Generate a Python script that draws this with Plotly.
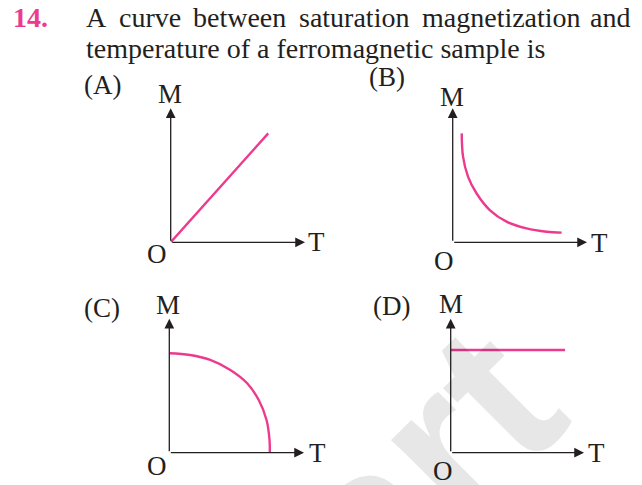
import plotly.graph_objects as go

W, H = 642, 485

# ---------------- data ----------------
question_no = "14."
line1_words = ["A", "curve", "between", "saturation", "magnetization", "and"]
line2_text = "temperature of a ferromagnetic sample is"
option_labels = ["(A)", "(B)", "(C)", "(D)"]
y_label, x_label, origin_label = "M", "T", "O"
watermark_text = "Smart"

# (A) straight line through origin
A_T = [0.0, 0.726]
A_M = [0.0, 0.813]
# (B) decreasing hyperbola-like curve
B_T = [0.067, 0.077, 0.114, 0.177, 0.276, 0.401, 0.550, 0.699, 0.811]
B_M = [0.813, 0.639, 0.490, 0.366, 0.241, 0.154, 0.104, 0.079, 0.072]
# (C) quarter-ellipse falling to zero at Curie temperature
C_T = [0.000, 0.154, 0.304, 0.453, 0.578, 0.664, 0.722, 0.744, 0.746]
C_M = [0.742, 0.729, 0.692, 0.617, 0.518, 0.393, 0.244, 0.095, 0.000]
# (D) constant
D_T = [0.0, 0.858]
D_M = [0.766, 0.766]

# ---------------- styling / layout ----------------
PINK = "#EC3A8E"
INK = "#231F20"
SERIF = "Liberation Serif, Times New Roman, serif"

# panel frames in pixels: origin x, origin y, x-arrow tip, y-arrow tip
panels = [
    dict(ox=170.7, oy=242.3, xt=305, yt=108.3),
    dict(ox=452.7, oy=242.3, xt=587, yt=108.3),
    dict(ox=169.3, oy=452.7, xt=304, yt=318.7),
    dict(ox=450.7, oy=452.7, xt=584, yt=318.7),
]
curves = [(A_T, A_M), (B_T, B_M), (C_T, C_M), (D_T, D_M)]
label_pos = [  # option label, M, T, O centres (pixels)
    dict(opt=(102, 85), M=(170, 94), T=(316, 242), O=(157, 254)),
    dict(opt=(387, 77), M=(451.5, 97), T=(599, 243), O=(444, 261)),
    dict(opt=(102, 308), M=(168, 305), T=(317, 453), O=(157, 466)),
    dict(opt=(391, 306), M=(451, 304), T=(596, 453), O=(443, 471)),
]

def px(x):
    return x / W

def py(y):
    return 1 - y / H

fig = go.Figure()
layout = dict(
    width=W, height=H,
    margin=dict(l=0, r=0, t=0, b=0),
    paper_bgcolor="white", plot_bgcolor="rgba(0,0,0,0)",
    showlegend=False,
)

annotations = []
# faint rotated watermark (drawn first, semi-transparent)
annotations.append(dict(
    xref="paper", yref="paper", x=px(301), y=py(587),
    xanchor="center", yanchor="middle", showarrow=False,
    text=f"<b>{watermark_text}</b>", textangle=-45,
    font=dict(family="Liberation Sans, Arial", size=220,
              color="rgba(0,0,0,0.095)"),
))

for i, (p, (t, m), lp) in enumerate(zip(panels, curves, label_pos)):
    k = "" if i == 0 else str(i + 1)
    xa, ya = f"xaxis{k}", f"yaxis{k}"
    layout[xa] = dict(domain=[px(p["ox"]), px(p["xt"])], range=[0, 1],
                      visible=False, fixedrange=True, anchor=f"y{k}")
    layout[ya] = dict(domain=[py(p["oy"]), py(p["yt"])], range=[0, 1],
                      visible=False, fixedrange=True, anchor=f"x{k}")
    fig.add_trace(go.Scatter(
        x=t, y=m, mode="lines", xaxis=f"x{k}", yaxis=f"y{k}",
        line=dict(color=PINK, width=2.4, shape="spline", smoothing=1.0),
        cliponaxis=False, hoverinfo="skip",
    ))
    arrow = dict(xref=f"x{k}", yref=f"y{k}", axref=f"x{k}", ayref=f"y{k}",
                 ax=0, ay=0, text="", showarrow=True, arrowhead=2,
                 arrowsize=1.5, arrowwidth=1.3, arrowcolor=INK, standoff=0)
    annotations.append(dict(arrow, x=1, y=0))
    annotations.append(dict(arrow, x=0, y=1))
    for key, txt in (("opt", option_labels[i]), ("M", y_label),
                     ("T", x_label), ("O", origin_label)):
        cx, cy = lp[key]
        annotations.append(dict(
            xref="paper", yref="paper", x=px(cx), y=py(cy),
            xanchor="center", yanchor="middle", showarrow=False, text=txt,
            font=dict(family=SERIF, size=27, color=INK),
        ))

# question number
annotations.append(dict(xref="paper", yref="paper", x=px(11), y=py(18),
                        xanchor="left", yanchor="middle", showarrow=False,
                        text=f"<b>{question_no}</b>",
                        font=dict(family=SERIF, size=28, color=PINK)))
# justified first line
word_x = [84, 116.6, 191.2, 296.9, 419.7, 632]
for j, (wd, wx) in enumerate(zip(line1_words, word_x)):
    annotations.append(dict(xref="paper", yref="paper", x=px(wx), y=py(18),
                            xanchor="right" if j == len(line1_words) - 1 else "left",
                            yanchor="middle", showarrow=False, text=wd,
                            font=dict(family=SERIF, size=28, color=INK)))
annotations.append(dict(xref="paper", yref="paper", x=px(84), y=py(49),
                        xanchor="left", yanchor="middle", showarrow=False,
                        text=line2_text,
                        font=dict(family=SERIF, size=28, color=INK)))

layout["annotations"] = annotations
fig.update_layout(**layout)
fig.write_html(
    "out.html",
    config={"displayModeBar": False, "staticPlot": True},
    post_script="document.body.style.margin='0';document.body.style.overflow='hidden';",
)
